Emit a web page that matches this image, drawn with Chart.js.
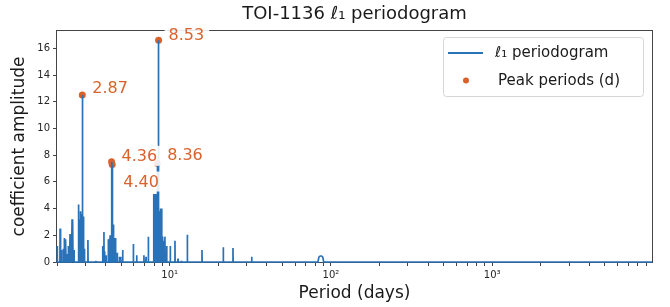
<!DOCTYPE html>
<html lang="en">
<head>
    <meta charset="UTF-8">
    <title>TOI-1136 l1 periodogram</title>
    <script src="https://cdn.jsdelivr.net/npm/chart.js@4.4.0/dist/chart.umd.min.js"></script>
    <style>
        html, body { margin: 0; padding: 0; background: #fff; }
        #wrap { width: 670px; height: 307px; position: relative; }
    </style>
</head>
<body>
    <div id="wrap"><canvas id="chart"></canvas></div>

    <script>
        // spikes of the l1 periodogram: period (days) and coefficient amplitude
        const spikePeriods = [
            2.01, 2.09, 2.12, 2.14, 2.19, 2.22, 2.25, 2.27, 2.31, 2.35, 2.38, 2.41, 2.45, 2.48, 2.51, 2.55,
            2.71, 2.73, 2.76, 2.79, 2.82, 2.87, 2.90, 2.93, 2.96, 3.11, 3.48,
            3.84, 3.91, 3.95, 4.03, 4.16, 4.22, 4.27, 4.30, 4.36, 4.38, 4.40, 4.44, 4.47, 4.50, 4.53, 4.58,
            4.63, 4.73, 4.88, 4.97, 5.11,
            5.95, 6.24, 6.92, 7.13, 7.37,
            7.94, 7.99, 8.04, 8.09, 8.14, 8.19, 8.24, 8.29, 8.33, 8.36, 8.40, 8.45, 8.49, 8.53,
            8.58, 8.63, 8.70, 8.76, 8.83, 8.92, 8.98, 9.05, 9.12, 9.20, 9.35, 9.44, 9.58,
            10.08, 10.78, 11.26, 11.83, 12.86, 15.86, 21.49, 24.69, 32.24
        ];
        const spikeAmps = [
            1.2, 2.5, 0.9, 0.8, 1.0, 1.8, 1.7, 1.65, 0.6, 1.2, 1.0, 2.1, 1.2, 3.2, 3.0, 0.9,
            4.3, 4.2, 3.2, 3.8, 3.6, 12.5, 3.4, 3.3, 1.0, 1.65, 0.1,
            1.2, 2.25, 0.8, 0.5, 1.7, 1.75, 2.0, 1.8, 7.5, 7.2, 7.3, 2.8, 2.8, 2.6, 1.8, 1.8,
            0.6, 0.7, 0.4, 0.4, 0.9,
            1.35, 0.5, 0.5, 0.4, 1.9,
            5.1, 5.1, 5.1, 5.1, 5.1, 5.1, 5.1, 5.1, 5.1, 7.4, 5.1, 5.1, 5.1, 16.6,
            3.85, 3.8, 3.7, 3.85, 4.0, 4.0, 1.9, 1.4, 1.6, 0.8, 1.9, 0.6, 1.2,
            1.2, 1.6, 0.25, 0.1, 2.05, 0.9, 1.1, 1.05, 0.4
        ];
        // broad low bump near 90 d
        const bumpPeriods = [83.0, 84.2, 85.8, 87.4, 89.0, 90.2];
        const bumpAmps = [0, 0.36, 0.45, 0.45, 0.36, 0];

        // marked peaks
        const peakPeriods = [2.87, 4.36, 4.40, 8.36, 8.53];
        const peakAmps = [12.5, 7.5, 7.3, 7.4, 16.6];
        const peakLabels = ['2.87', '4.36', '4.40', '8.36', '8.53'];

        const yTicks = [0, 2, 4, 6, 8, 10, 12, 14, 16];
        const xMajorTicks = [10, 100, 1000];
        const xMajorLabels = ['10¹', '10²', '10³'];
        const xMin = 2.0, xMax = 9800, yMax = 17.3;

        // pixel offsets of each peak label from its marker (same order as peakLabels)
        const labelOffsets = [[10, -7], [10, -6], [11, 17], [10, -8], [10, -6]];

        const BLUE = '#2a72b8';
        const ORANGE = '#d9622c';
        const FONT = "'DejaVu Sans', sans-serif";

        // build the line: every spike rises from and falls back to zero
        const curve = [{ x: xMin, y: 0 }, { x: xMax, y: 0 }];
        spikePeriods.forEach((p, i) => {
            curve.push({ x: p / 1.0025, y: 0 }, { x: p, y: spikeAmps[i] }, { x: p * 1.0025, y: 0 });
        });
        bumpPeriods.forEach((p, i) => curve.push({ x: p, y: bumpAmps[i] }));
        curve.sort((a, b) => a.x - b.x);

        const peaks = peakPeriods.map((p, i) => ({ x: p, y: peakAmps[i] }));

        const decor = {
            id: 'decor',
            beforeDatasetsDraw(chart) {
                const { ctx, chartArea: a } = chart;
                ctx.save();
                ctx.strokeStyle = '#444';
                ctx.lineWidth = 1;
                ctx.strokeRect(Math.round(a.left) - 0.5, Math.round(a.top) - 0.5,
                    Math.round(a.right - a.left) + 1, Math.round(a.bottom - a.top) + 1);
                ctx.restore();
            },
            afterDatasetsDraw(chart) {
                const { ctx, chartArea: a, scales } = chart;
                ctx.save();

                // peak labels with a pale box behind
                ctx.font = '16px ' + FONT;
                ctx.textBaseline = 'middle';
                peakLabels.forEach((t, i) => {
                    const px = scales.x.getPixelForValue(peakPeriods[i]) + labelOffsets[i][0];
                    const py = scales.y.getPixelForValue(peakAmps[i]) + labelOffsets[i][1];
                    const w = ctx.measureText(t).width;
                    ctx.fillStyle = 'rgba(255,255,255,0.88)';
                    ctx.fillRect(px - 4, py - 10, w + 9, 20);
                    ctx.fillStyle = ORANGE;
                    ctx.fillText(t, px, py + 1);
                });

                // legend
                const lx = 443, ly = 37, lw = 200, lh = 59;
                ctx.fillStyle = 'rgba(255,255,255,0.85)';
                ctx.strokeStyle = '#d6d6d6';
                ctx.lineWidth = 1;
                ctx.beginPath();
                ctx.roundRect(lx + 0.5, ly + 0.5, lw, lh, 3);
                ctx.fill();
                ctx.stroke();
                ctx.strokeStyle = BLUE;
                ctx.lineWidth = 1.8;
                ctx.beginPath();
                ctx.moveTo(448, 53);
                ctx.lineTo(483, 53);
                ctx.stroke();
                ctx.fillStyle = ORANGE;
                ctx.beginPath();
                ctx.arc(466, 80.5, 3, 0, Math.PI * 2);
                ctx.fill();
                ctx.fillStyle = '#1a1a1a';
                ctx.font = '15px ' + FONT;
                ctx.fillText('ℓ₁ periodogram', 495, 53);
                ctx.fillText('Peak periods (d)', 498, 81);

                // title and axis titles
                ctx.textAlign = 'center';
                ctx.font = '18px ' + FONT;
                ctx.fillText('TOI-1136 ℓ₁ periodogram', (a.left + a.right) / 2, 14);
                ctx.font = '17px ' + FONT;
                ctx.fillText('Period (days)', (a.left + a.right) / 2, 294);
                ctx.translate(20, (a.top + a.bottom) / 2);
                ctx.rotate(-Math.PI / 2);
                ctx.fillText('coefficient amplitude', 0, 0);
                ctx.restore();
            }
        };

        new Chart(document.getElementById('chart'), {
            type: 'scatter',
            data: {
                datasets: [
                    {
                        label: 'l1 periodogram',
                        data: curve,
                        showLine: true,
                        borderColor: BLUE,
                        borderWidth: 1.7,
                        pointRadius: 0,
                        tension: 0,
                        clip: false
                    },
                    {
                        label: 'Peak periods (d)',
                        data: peaks,
                        pointRadius: 3.5,
                        pointHoverRadius: 3.5,
                        backgroundColor: ORANGE,
                        borderWidth: 0
                    }
                ]
            },
            options: {
                responsive: true,
                maintainAspectRatio: false,
                animation: false,
                devicePixelRatio: 1,
                layout: { padding: { left: 0, right: 18, top: 31, bottom: 0 } },
                plugins: { legend: { display: false }, tooltip: { enabled: false } },
                scales: {
                    x: {
                        type: 'logarithmic',
                        min: xMin,
                        max: xMax,
                        border: { display: false },
                        grid: { drawOnChartArea: false, tickLength: 4, tickColor: '#444' },
                        afterBuildTicks(scale) {
                            const t = [];
                            for (let d = 1; d <= 1000; d *= 10) {
                                for (let m = 1; m < 10; m++) {
                                    const v = m * d;
                                    if (v >= xMin && v <= xMax) t.push({ value: v });
                                }
                            }
                            scale.ticks = t;
                        },
                        afterFit(scale) { scale.height = 45; },
                        ticks: {
                            autoSkip: false,
                            maxRotation: 0,
                            padding: 3,
                            color: '#262626',
                            font: { family: FONT, size: 10 },
                            callback(v) {
                                const k = xMajorTicks.indexOf(v);
                                return k >= 0 ? xMajorLabels[k] : '';
                            }
                        }
                    },
                    y: {
                        min: 0,
                        max: yMax,
                        border: { display: false },
                        grid: { drawOnChartArea: false, tickLength: 4, tickColor: '#444' },
                        afterBuildTicks(scale) { scale.ticks = yTicks.map(v => ({ value: v })); },
                        afterFit(scale) { scale.width = 57; },
                        ticks: {
                            padding: 3,
                            color: '#262626',
                            font: { family: FONT, size: 10 }
                        }
                    }
                }
            },
            plugins: [decor]
        });
    </script>
</body>
</html>
